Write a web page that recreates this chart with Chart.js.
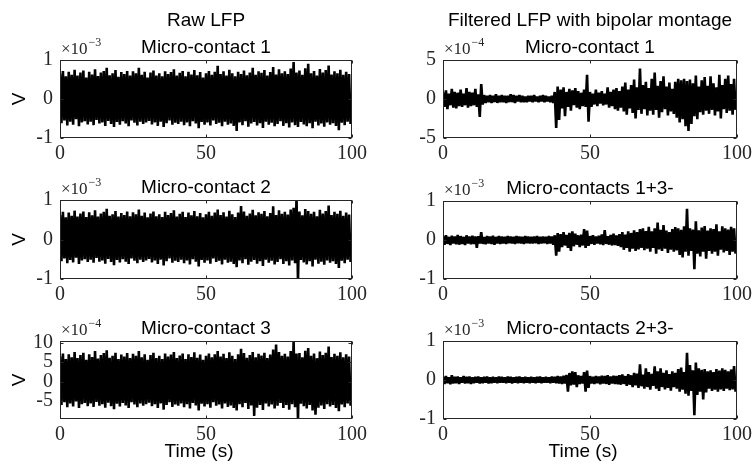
<!DOCTYPE html>
<html>
<head>
<meta charset="utf-8">
<script src="https://cdn.jsdelivr.net/npm/chart.js@4.4.1/dist/chart.umd.min.js"></script>
<style>
  body { margin: 0; background: #fff; }
  #wrap { position: relative; width: 752px; height: 464px; overflow: hidden; }
  #wrap canvas { position: absolute; }
</style>
</head>
<body>
<div id="wrap"></div>
<script>
// sample times (s), one upper/lower envelope reading per second
const timeSec = Array.from({ length: 100 }, (_, i) => i);
const xTicks = [0, 50, 100];

// Raw LFP, micro-contact 1 (x1e-3 V)
const raw1Up = [.65,.72,.58,.70,.62,.75,.60,.68,.73,.55, .70,.63,.76,.59,.68,.72,.80,.61,.66,.74,
  .57,.69,.64,.72,.60,.71,.66,.80,.62,.70, .55,.68,.73,.60,.66,.58,.71,.64,.69,.76,
  .60,.67,.72,.58,.70,.63,.74,.61,.69,.55, .66,.72,.62,.70,.85,.64,.71,.60,.75,.66,
  .58,.70,.64,.73,.61,.68,.80,.62,.71,.67, .74,.60,.69,.82,.63,.76,.66,.71,.64,.78,
  .95,.68,.73,.62,.79,.90,.66,.72,.60,.77, .68,.74,.86,.63,.71,.66,.75,.62,.70,.64];
const raw1Low = [-.62,-.55,-.68,-.58,-.66,-.52,-.70,-.60,-.57,-.65, -.58,-.67,-.54,-.63,-.60,-.69,-.56,-.64,-.72,-.59,
  -.66,-.57,-.63,-.70,-.55,-.61,-.68,-.58,-.64,-.60, -.56,-.65,-.60,-.69,-.58,-.72,-.62,-.55,-.66,-.61,
  -.64,-.58,-.67,-.60,-.70,-.57,-.63,-.75,-.59,-.66, -.60,-.68,-.55,-.64,-.61,-.70,-.58,-.66,-.63,-.69,
  -.82,-.60,-.67,-.57,-.71,-.63,-.59,-.68,-.62,-.74, -.58,-.66,-.61,-.70,-.64,-.57,-.69,-.62,-.73,-.60,
  -.67,-.72,-.59,-.65,-.70,-.62,-.75,-.58,-.68,-.63, -.71,-.60,-.66,-.62,-.69,-.80,-.61,-.67,-.58,-.64];

// Raw LFP, micro-contact 2 (x1e-3 V)
const raw2Up = [.62,.70,.56,.68,.60,.73,.58,.66,.71,.57, .69,.61,.74,.58,.66,.70,.78,.60,.64,.72,
  .58,.67,.62,.71,.59,.69,.64,.76,.60,.68, .56,.66,.71,.59,.64,.57,.70,.62,.67,.74,
  .58,.65,.70,.57,.68,.61,.72,.59,.67,.56, .64,.70,.60,.68,.76,.62,.69,.58,.73,.64,
  .57,.68,.85,.71,.60,.66,.75,.61,.69,.65, .72,.59,.67,.84,.62,.74,.65,.70,.63,.76,
  .80,1.05,.71,.61,.77,.72,.65,.70,.59,.75, .66,.72,.86,.62,.70,.65,.73,.60,.68,.63];
const raw2Low = [-.55,-.48,-.60,-.52,-.58,-.46,-.62,-.53,-.50,-.57, -.51,-.59,-.47,-.56,-.53,-.61,-.49,-.57,-.65,-.52,
  -.58,-.50,-.56,-.62,-.48,-.54,-.60,-.51,-.57,-.53, -.49,-.58,-.53,-.62,-.51,-.66,-.55,-.48,-.59,-.54,
  -.57,-.51,-.60,-.53,-.63,-.50,-.56,-.68,-.52,-.59, -.53,-.61,-.48,-.57,-.54,-.63,-.51,-.59,-.56,-.62,
  -.70,-.53,-.60,-.50,-.64,-.56,-.52,-.61,-.55,-.67, -.51,-.59,-.54,-.63,-.57,-.50,-.62,-.55,-.66,-.53,
  -.60,-1.05,-.52,-.58,-.63,-.55,-.68,-.51,-.61,-.56, -.64,-.53,-.59,-.55,-.62,-.72,-.54,-.60,-.51,-.57];

// Raw LFP, micro-contact 3 (x1e-4 V)
const raw3Up = [6.5,7.2,5.8,7.0,6.2,7.6,6.0,6.8,7.4,5.6, 7.0,6.3,7.8,5.9,6.8,7.3,8.0,6.1,6.6,7.4,
  5.8,6.9,6.4,7.3,6.0,7.1,6.6,7.8,6.2,7.0, 5.6,6.8,7.4,6.0,6.6,5.8,7.2,6.4,6.9,7.6,
  6.0,6.7,7.2,5.8,7.0,6.3,7.5,6.1,6.9,5.6, 6.6,7.2,6.2,7.0,7.8,6.4,7.1,6.0,7.5,6.6,
  5.8,7.0,8.4,7.3,6.1,6.8,7.6,6.2,7.1,6.7, 7.4,6.0,6.9,8.2,9.5,7.6,6.6,7.1,6.4,7.8,
  10.2,7.2,7.3,6.2,7.9,8.6,6.6,7.2,6.0,7.7, 6.8,7.4,9.0,6.3,7.1,6.6,7.5,6.2,7.0,6.4];
const raw3Low = [-6.0,-5.3,-6.6,-5.6,-6.4,-5.1,-6.8,-5.8,-5.5,-6.3, -5.6,-6.5,-5.2,-6.2,-5.8,-6.7,-5.4,-6.3,-7.1,-5.7,
  -6.4,-5.5,-6.1,-6.8,-5.3,-5.9,-6.6,-5.6,-6.2,-5.8, -5.4,-6.3,-5.8,-6.8,-5.6,-7.2,-6.0,-5.3,-6.5,-5.9,
  -6.2,-5.6,-6.6,-5.8,-6.9,-5.5,-6.1,-7.4,-5.7,-6.4, -5.8,-6.7,-5.3,-6.2,-5.9,-6.9,-5.6,-6.5,-6.1,-6.8,
  -7.4,-5.8,-6.6,-5.5,-7.0,-6.1,-8.8,-6.7,-6.0,-7.3, -5.6,-6.4,-5.9,-6.9,-6.2,-5.5,-6.8,-6.0,-7.2,-5.8,
  -6.6,-9.6,-5.7,-6.3,-6.9,-6.0,-7.4,-8.5,-6.7,-6.1, -7.0,-5.8,-6.4,-6.0,-6.8,-7.6,-5.9,-6.6,-5.6,-6.2];

// Filtered, micro-contact 1 (x1e-4 V)
const filt1Up = [.8,1.1,.7,1.3,.9,.8,1.2,.7,1.4,.9, .8,1.3,.6,1.9,.5,.4,.5,.4,.6,.4,
  .5,.4,.4,.6,.5,.4,.5,.4,.3,.4, .4,.5,.3,.4,.5,.4,.3,.4,.9,1.6,
  1.2,1.5,.9,1.3,1.1,1.4,1.0,.8,1.2,3.1, .9,.7,1.2,.8,1.0,.7,1.5,.9,1.2,1.4,
  1.0,1.6,2.1,1.2,1.8,2.5,1.5,3.9,1.8,2.2, 1.4,2.6,3.4,1.7,2.3,2.9,1.6,2.1,1.3,2.2,
  2.6,2.4,2.6,2.3,2.5,2.0,3.0,1.6,2.4,2.8, 1.7,2.9,2.0,1.5,3.1,1.8,2.6,3.0,1.9,2.6];
const filt1Low = [-1.0,-1.3,-.8,-1.1,-1.2,-.9,-1.0,-.8,-1.1,-.9, -.8,-1.0,-2.3,-.7,-.5,-.4,-.5,-.4,-.5,-.4,
  -.4,-.5,-.4,-.4,-.5,-.3,-.4,-.4,-.4,-.3, -.4,-.3,-.4,-.3,-.4,-.3,-.4,-.5,-3.7,-2.7,
  -1.2,-2.2,-1.0,-1.5,-.8,-1.1,-1.3,-.9,-1.0,-2.9, -1.0,-.7,-.9,-.6,-.8,-.7,-1.1,-.9,-1.3,-1.5,
  -1.1,-1.6,-2.0,-1.2,-1.8,-2.5,-1.4,-1.9,-1.3,-2.1, -1.5,-2.0,-1.4,-2.4,-1.7,-1.3,-2.1,-1.6,-1.9,-2.4,
  -3.0,-2.6,-3.5,-4.1,-3.2,-2.2,-2.6,-1.7,-2.0,-1.5, -1.9,-1.4,-2.1,-1.6,-2.5,-1.3,-1.8,-1.5,-2.0,-1.4];

// Bipolar, micro-contacts 1+3- (x1e-3 V)
const bip13Up = [.10,.12,.08,.11,.09,.13,.10,.08,.12,.09, .11,.09,.10,.20,.08,.10,.09,.11,.08,.10,
  .09,.08,.10,.09,.08,.10,.09,.08,.10,.09, .08,.09,.10,.08,.09,.08,.10,.09,.12,.18,
  .15,.20,.13,.18,.22,.16,.12,.14,.28,.24, .10,.12,.09,.11,.14,.25,.10,.13,.16,.12,
  .15,.20,.14,.22,.18,.25,.20,.28,.30,.23, .34,.22,.30,.45,.26,.38,.24,.20,.28,.33,
  .30,.26,.35,.80,.30,.27,.48,.25,.32,.36, .24,.30,.28,.40,.22,.35,.30,.27,.34,.30];
const bip13Low = [-.12,-.10,-.13,-.09,-.11,-.12,-.10,-.13,-.09,-.11, -.10,-.20,-.09,-.10,-.11,-.09,-.10,-.12,-.09,-.10,
  -.09,-.10,-.08,-.09,-.10,-.08,-.09,-.10,-.08,-.09, -.09,-.08,-.10,-.09,-.08,-.10,-.09,-.12,-.40,-.30,
  -.18,-.14,-.20,-.28,-.16,-.12,-.18,-.14,-.20,-.15, -.10,-.12,-.09,-.11,-.13,-.10,-.12,-.14,-.13,-.15,
  -.18,-.25,-.20,-.30,-.22,-.28,-.24,-.20,-.26,-.22, -.30,-.20,-.35,-.24,-.28,-.22,-.33,-.25,-.30,-.27,
  -.38,-.45,-.30,-.40,-.28,-.75,-.35,-.42,-.30,-.48, -.28,-.35,-.30,-.40,-.25,-.32,-.28,-.38,-.30,-.35];

// Bipolar, micro-contacts 2+3- (x1e-3 V)
const bip23Up = [.08,.10,.07,.12,.08,.09,.07,.10,.08,.09, .07,.08,.09,.07,.08,.09,.07,.08,.07,.09,
  .08,.07,.09,.08,.07,.08,.09,.07,.08,.07, .08,.07,.08,.09,.07,.08,.07,.09,.08,.10,
  .09,.11,.13,.18,.22,.20,.12,.10,.20,.24, .10,.08,.10,.09,.11,.10,.12,.09,.11,.10,
  .12,.14,.10,.15,.12,.18,.16,.40,.14,.30, .20,.16,.35,.22,.30,.18,.25,.15,.22,.18,
  .28,.32,.20,.70,.38,.25,.45,.30,.26,.28, .22,.25,.20,.28,.24,.30,.26,.22,.27,.36];
const bip23Low = [-.10,-.08,-.11,-.09,-.08,-.10,-.07,-.09,-.08,-.10, -.08,-.07,-.09,-.08,-.07,-.09,-.08,-.07,-.08,-.07,
  -.07,-.08,-.07,-.09,-.07,-.08,-.07,-.08,-.07,-.08, -.07,-.08,-.07,-.08,-.07,-.07,-.08,-.07,-.08,-.09,
  -.10,-.09,-.30,-.14,-.12,-.18,-.10,-.09,-.30,-.20, -.09,-.10,-.08,-.11,-.09,-.10,-.12,-.09,-.10,-.11,
  -.12,-.10,-.15,-.12,-.18,-.14,-.20,-.16,-.22,-.18, -.25,-.15,-.22,-.28,-.18,-.24,-.20,-.27,-.18,-.22,
  -.30,-.25,-.35,-.40,-.28,-.90,-.38,-.30,-.50,-.32, -.22,-.28,-.25,-.30,-.24,-.28,-.22,-.26,-.24,-.30];

const panels = [
  { col: 0, top: 60,  bottom: 138, up: raw1Up,  low: raw1Low,  min: -1, max: 1, yTicks: [-1, 0, 1], exp: 3,
    colTitle: 'Raw LFP', title: 'Micro-contact 1', yLabel: true },
  { col: 0, top: 200, bottom: 279, up: raw2Up,  low: raw2Low,  min: -1, max: 1, yTicks: [-1, 0, 1], exp: 3,
    title: 'Micro-contact 2', yLabel: true },
  { col: 0, top: 341, bottom: 419, up: raw3Up,  low: raw3Low,  min: -9.6, max: 10.4, yTicks: [-5, 0, 5, 10], exp: 4,
    title: 'Micro-contact 3', yLabel: true, xLabel: true },
  { col: 1, top: 60,  bottom: 138, up: filt1Up, low: filt1Low, min: -5, max: 5, yTicks: [-5, 0, 5], exp: 4,
    colTitle: 'Filtered LFP with bipolar montage', title: 'Micro-contact 1' },
  { col: 1, top: 201, bottom: 279, up: bip13Up, low: bip13Low, min: -1, max: 1, yTicks: [-1, 0, 1], exp: 3,
    title: 'Micro-contacts 1+3-' },
  { col: 1, top: 341, bottom: 419, up: bip23Up, low: bip23Low, min: -1, max: 1, yTicks: [-1, 0, 1], exp: 3,
    title: 'Micro-contacts 2+3-', xLabel: true }
];

const PAD_TOP = 60;
const X_AXIS_H = 50;
const tickFont = { family: '"Liberation Serif", "Times New Roman", serif', size: 20 };
const sansFont = '"Liberation Sans", Arial, sans-serif';

// alternate upper and lower readings so the trace fills the band like the dense signal
function zigzag(up, low) {
  const pts = [];
  for (let i = 0; i < up.length; i++) {
    pts.push({ x: timeSec[i], y: up[i] });
    pts.push({ x: timeSec[i] + 0.5, y: low[i] });
  }
  return pts;
}

const axesBox = {
  id: 'axesBox',
  afterDraw(chart) {
    const { ctx, chartArea: a, scales } = chart;
    const l = Math.round(a.left) + 0.5, r = Math.round(a.right) - 0.5;
    const t = Math.round(a.top) + 0.5, b = Math.round(a.bottom) - 0.5;
    ctx.save();
    ctx.strokeStyle = '#262626';
    ctx.lineWidth = 1;
    ctx.strokeRect(l, t, r - l, b - t);
    ctx.beginPath();
    xTicks.forEach(v => {
      const px = Math.round(scales.x.getPixelForValue(v)) + 0.5;
      ctx.moveTo(px, b); ctx.lineTo(px, b - 3);
      ctx.moveTo(px, t); ctx.lineTo(px, t + 3);
    });
    chart.options.plugins.panelText.panel.yTicks.forEach(v => {
      const py = Math.round(scales.y.getPixelForValue(v)) + 0.5;
      ctx.moveTo(l, py); ctx.lineTo(l + 3, py);
      ctx.moveTo(r, py); ctx.lineTo(r - 3, py);
    });
    ctx.stroke();
    ctx.restore();
  }
};

const panelText = {
  id: 'panelText',
  afterDraw(chart, args, opts) {
    const p = opts.panel;
    const ctx = chart.ctx;
    const a = chart.chartArea;
    const cx = (a.left + a.right) / 2;
    ctx.save();
    ctx.fillStyle = '#000';
    ctx.textAlign = 'center';
    ctx.textBaseline = 'alphabetic';
    ctx.font = '19px ' + sansFont;
    if (p.colTitle) ctx.fillText(p.colTitle, cx, a.top - 34);
    ctx.fillText(p.title, cx, a.top - 7);
    if (p.xLabel) ctx.fillText('Time (s)', cx - 7, a.bottom + 37.5);

    // exponent of the y axis
    ctx.fillStyle = '#262626';
    ctx.textAlign = 'left';
    ctx.font = '17px ' + tickFont.family;
    ctx.fillText('\u00d710', a.left + 1, a.top - 6.5);
    const w = ctx.measureText('\u00d710').width;
    ctx.font = '12px ' + tickFont.family;
    ctx.fillText('\u2212' + p.exp, a.left + 2 + w, a.top - 14);

    if (p.yLabel) {
      ctx.fillStyle = '#000';
      ctx.font = '19px ' + sansFont;
      ctx.translate(20, (a.top + a.bottom) / 2);
      ctx.rotate(-Math.PI / 2);
      ctx.textAlign = 'center';
      ctx.textBaseline = 'middle';
      ctx.fillText('V', 0, 0);
    }
    ctx.restore();
  }
};

const wrap = document.getElementById('wrap');

panels.forEach(p => {
  const canvas = document.createElement('canvas');
  const h = PAD_TOP + (p.bottom - p.top) + X_AXIS_H;
  canvas.width = 376;
  canvas.height = h;
  canvas.style.left = (p.col * 376) + 'px';
  canvas.style.top = (p.top - PAD_TOP) + 'px';
  canvas.style.width = '376px';
  canvas.style.height = h + 'px';
  wrap.appendChild(canvas);

  const yWidth = p.col === 0 ? 60 : 67;
  const padRight = p.col === 0 ? 24 : 15;

  const config = {
    type: 'line',
    data: {
      datasets: [{
        data: zigzag(p.up, p.low),
        borderColor: '#000',
        borderWidth: 2.6,
        borderJoinStyle: 'bevel',
        pointRadius: 0,
        tension: 0,
        fill: false
      }]
    },
    options: {
      responsive: false,
      animation: false,
      devicePixelRatio: 1,
      events: [],
      layout: { padding: { top: PAD_TOP, right: padRight, bottom: 0, left: 0 } },
      plugins: {
        legend: { display: false },
        tooltip: { enabled: false },
        panelText: { panel: p }
      },
      scales: {
        x: {
          type: 'linear',
          min: 0,
          max: 100,
          grid: { display: false, drawTicks: false },
          border: { display: false },
          afterBuildTicks: s => { s.ticks = xTicks.map(v => ({ value: v })); },
          ticks: { color: '#262626', font: tickFont, padding: 4, maxRotation: 0, autoSkip: false },
          afterFit: s => { s.height = X_AXIS_H; s.paddingLeft = 0; s.paddingRight = 0; }
        },
        y: {
          type: 'linear',
          min: p.min,
          max: p.max,
          grid: { display: false, drawTicks: false },
          border: { display: false },
          afterBuildTicks: s => { s.ticks = p.yTicks.map(v => ({ value: v })); },
          ticks: { color: '#262626', font: tickFont, padding: 7, autoSkip: false, callback: v => String(v) },
          afterFit: s => { s.width = yWidth; s.paddingTop = 0; s.paddingBottom = 0; }
        }
      }
    },
    plugins: [axesBox, panelText]
  };

  new Chart(canvas, config);
});
</script>
</body>
</html>
